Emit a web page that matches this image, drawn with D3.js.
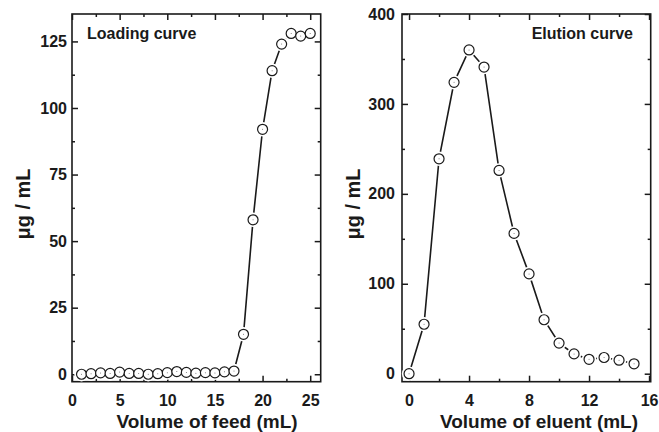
<!DOCTYPE html>
<html lang="en">
<head>
  <meta charset="UTF-8" />
  <title>Loading and elution curves</title>
  <script src="https://cdn.jsdelivr.net/npm/d3@7/dist/d3.min.js"></script>
  <style>
    body { margin: 0; background: #fff; }
    svg text { font-family: "Liberation Sans", Arial, sans-serif; font-weight: bold; fill: #1a1a1a; }
  </style>
</head>
<body>
<script>
  // loading curve
  var feedVolume = [1, 2, 3, 4, 5, 6, 7, 8, 9, 10, 11, 12, 13, 14, 15, 16, 17, 18, 19, 20, 21, 22, 23, 24, 25];
  var feedConc = [0, 0.2, 0.5, 0.3, 0.8, 0.3, 0.3, 0, 0.2, 0.6, 1, 0.7, 0.4, 0.6, 0.5, 0.9, 1.2, 15, 58, 92, 114, 124, 128, 127, 128];
  var feedTicks = [0, 5, 10, 15, 20, 25];
  var feedConcTicks = [0, 25, 50, 75, 100, 125];

  // elution curve
  var eluentVolume = [0, 1, 2, 3, 4, 5, 6, 7, 8, 9, 10, 11, 12, 13, 14, 15];
  var eluentConc = [0, 55, 239, 324, 360, 341, 226, 156, 111, 60, 34, 22, 16, 18, 15, 11];
  var eluentTicks = [0, 4, 8, 12, 16];
  var eluentConcTicks = [0, 100, 200, 300, 400];

  var w = 659, h = 432;
  var svg = d3.select("body").append("svg").attr("width", w).attr("height", h);

  function panel(opt) {
    var x = d3.scaleLinear().domain(opt.xDomain).range([opt.left, opt.right]);
    var y = d3.scaleLinear().domain(opt.yDomain).range([opt.bottom, opt.top]);
    var g = svg.append("g");

    // major + minor ticks on all four sides, pointing inward
    function ax(axis, scale, vals, size, labels, pad) {
      var a = axis(scale).tickValues(vals).tickSize(-size).tickPadding(pad || 0);
      if (!labels) a.tickFormat("");
      return a;
    }
    var xg = [
      [d3.axisBottom, opt.bottom, true],
      [d3.axisTop, opt.top, false]
    ];
    xg.forEach(function(s) {
      g.append("g").attr("transform", "translate(0," + s[1] + ")")
        .call(ax(s[0], x, opt.xTicks, 6, s[2], 13));
      g.append("g").attr("transform", "translate(0," + s[1] + ")")
        .call(ax(s[0], x, opt.xMinor, 3, false));
    });
    var yg = [
      [d3.axisLeft, opt.left, true],
      [d3.axisRight, opt.right, false]
    ];
    yg.forEach(function(s) {
      g.append("g").attr("transform", "translate(" + s[1] + ",0)")
        .call(ax(s[0], y, opt.yTicks, 6, s[2], opt.yPad));
      g.append("g").attr("transform", "translate(" + s[1] + ",0)")
        .call(ax(s[0], y, opt.yMinor, 3, false));
    });
    g.selectAll(".domain").remove();
    g.selectAll(".tick line").attr("stroke", "#1a1a1a").attr("stroke-width", 1.5);
    g.selectAll(".tick text").style("font-size", "16px").attr("fill", "#1a1a1a");

    g.append("rect")
      .attr("x", opt.left).attr("y", opt.top)
      .attr("width", opt.right - opt.left).attr("height", opt.bottom - opt.top)
      .attr("fill", "none").attr("stroke", "#1a1a1a").attr("stroke-width", 1.6);

    var pts = opt.xs.map(function(d, i) { return [d, opt.ys[i]]; });
    g.append("path")
      .datum(pts)
      .attr("fill", "none").attr("stroke", "#1a1a1a").attr("stroke-width", 1.6)
      .attr("d", d3.line().x(function(d) { return x(d[0]); }).y(function(d) { return y(d[1]); }));

    // white halo so the line stops short of each marker
    g.selectAll(".halo").data(pts).enter().append("circle")
      .attr("cx", function(d) { return x(d[0]); })
      .attr("cy", function(d) { return y(d[1]); })
      .attr("r", 7.2).attr("fill", "#fff");
    g.selectAll(".mark").data(pts).enter().append("circle")
      .attr("cx", function(d) { return x(d[0]); })
      .attr("cy", function(d) { return y(d[1]); })
      .attr("r", 5).attr("fill", "#fff").attr("stroke", "#1a1a1a").attr("stroke-width", 1.2);
    g.selectAll(".dot").data(pts).enter().append("circle")
      .attr("cx", function(d) { return x(d[0]); })
      .attr("cy", function(d) { return y(d[1]); })
      .attr("r", 0.5).attr("fill", "#666");

    g.append("text")
      .attr("x", opt.xTitleX).attr("y", 428)
      .attr("text-anchor", "middle").style("font-size", "19px")
      .text(opt.xTitle);
    g.append("text")
      .attr("transform", "translate(" + opt.yTitleX + ",204) rotate(-90)")
      .attr("text-anchor", "middle").style("font-size", "20px")
      .text("μg / mL");
    g.append("text")
      .attr("x", opt.noteX).attr("y", 39)
      .attr("text-anchor", opt.noteAnchor).style("font-size", "16px")
      .text(opt.note);
  }

  panel({
    left: 72, right: 320.7, top: 14, bottom: 381.7,
    xDomain: [0, 26.1], yDomain: [-2.8, 135.3],
    xTicks: feedTicks, xMinor: [2.5, 7.5, 12.5, 17.5, 22.5],
    yTicks: feedConcTicks, yMinor: [12.5, 37.5, 62.5, 87.5, 112.5],
    yPad: 5,
    xs: feedVolume, ys: feedConc,
    xTitle: "Volume of feed (mL)", xTitleX: 207, yTitleX: 30,
    note: "Loading curve", noteX: 87, noteAnchor: "start"
  });

  panel({
    left: 402, right: 650.7, top: 14, bottom: 381.7,
    xDomain: [-0.47, 16.11], yDomain: [-8.9, 400],
    xTicks: eluentTicks, xMinor: [2, 6, 10, 14],
    yTicks: eluentConcTicks, yMinor: [50, 150, 250, 350],
    yPad: 7,
    xs: eluentVolume, ys: eluentConc,
    xTitle: "Volume of eluent (mL)", xTitleX: 539, yTitleX: 360,
    note: "Elution curve", noteX: 633, noteAnchor: "end"
  });
</script>
</body>
</html>
